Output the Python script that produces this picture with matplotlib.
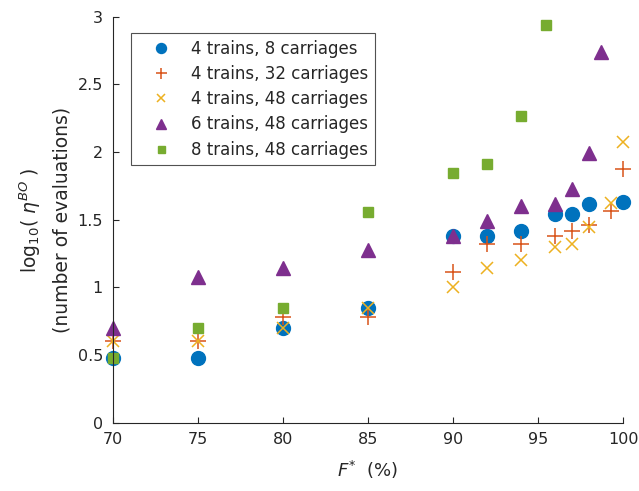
import matplotlib
matplotlib.use("Agg")
import matplotlib.pyplot as plt

plt.rcParams['font.family'] = ['DejaVu Sans']
plt.rcParams['mathtext.fontset'] = 'dejavusans'

# Data
x_4_8 = [70, 75, 80, 85, 90, 92, 94, 96, 97, 98, 100]
y_4_8 = [0.477, 0.477, 0.699, 0.845, 1.38, 1.38, 1.415, 1.544, 1.544, 1.613, 1.633]

x_4_32 = [70, 75, 80, 85, 90, 92, 94, 96, 97, 98, 99.3, 100]
y_4_32 = [0.602, 0.602, 0.778, 0.778, 1.114, 1.322, 1.322, 1.38, 1.415, 1.462, 1.568, 1.875]

x_4_48 = [70, 75, 80, 85, 90, 92, 94, 96, 97, 98, 99.3, 100]
y_4_48 = [0.602, 0.602, 0.699, 0.845, 1.0, 1.146, 1.204, 1.301, 1.322, 1.447, 1.623, 2.075]

x_6_48 = [70, 75, 80, 85, 90, 92, 94, 96, 97, 98, 98.7]
y_6_48 = [0.699, 1.079, 1.146, 1.279, 1.38, 1.491, 1.602, 1.613, 1.73, 1.996, 2.74]

x_8_48 = [70, 75, 80, 85, 90, 92, 94, 95.5]
y_8_48 = [0.477, 0.699, 0.845, 1.556, 1.845, 1.914, 2.265, 2.935]

labels = ['4 trains, 8 carriages', '4 trains, 32 carriages', '4 trains, 48 carriages',
          '6 trains, 48 carriages', '8 trains, 48 carriages']
xticks = [70, 75, 80, 85, 90, 95, 100]
yticks = [0, 0.5, 1, 1.5, 2, 2.5, 3]
yticklabels = ['0', '0.5', '1', '1.5', '2', '2.5', '3']

c_blue = '#0072BD'
c_orange = '#D95319'
c_yellow = '#EDB120'
c_purple = '#7E2F8E'
c_green = '#77AC30'
c_text = '#262626'

fig = plt.figure(figsize=(6.39, 4.91), dpi=100)
ax = fig.add_axes([0.1764, 0.139, 0.7986, 0.827])

kw = dict(ls='none', clip_on=False)
ax.plot(x_4_8, y_4_8, 'o', color=c_blue, ms=10, label=labels[0], **kw)
ax.plot(x_4_32, y_4_32, '+', color=c_orange, ms=11, mew=1.1, label=labels[1], **kw)
ax.plot(x_4_48, y_4_48, 'x', color=c_yellow, ms=8, mew=1.1, label=labels[2], **kw)
ax.plot(x_6_48, y_6_48, '^', color=c_purple, ms=10, label=labels[3], **kw)
ax.plot(x_8_48, y_8_48, 's', color=c_green, ms=7, label=labels[4], **kw)

ax.set_xlim(70, 100)
ax.set_ylim(0, 3)
ax.set_xticks(xticks)
ax.set_yticks(yticks)
ax.set_yticklabels(yticklabels)
ax.spines['top'].set_visible(False)
ax.spines['right'].set_visible(False)
for s in ['left', 'bottom']:
    ax.spines[s].set_color(c_text)
    ax.spines[s].set_linewidth(0.8)
ax.tick_params(direction='in', length=4, width=0.8, colors=c_text, labelsize=11.5, pad=7)

ax.set_xlabel(r'$F^{*}$  (%)', fontsize=13, color=c_text, labelpad=8)
ax.set_ylabel('log$_{10}$( $\\eta^{BO}$ )\n(number of evaluations)', fontsize=13.5,
              color=c_text, labelpad=4, linespacing=1.65)

leg = ax.legend(loc='upper left', bbox_to_anchor=(130.7 / 639, 1 - 33.3 / 491),
                bbox_transform=fig.transFigure, fontsize=12, frameon=True,
                fancybox=False, edgecolor=c_text, handlelength=2.8,
                handletextpad=0.4, labelspacing=0.43, borderpad=0.4,
                borderaxespad=0, numpoints=1, markerscale=0.72)
leg.get_frame().set_linewidth(0.8)
for t in leg.get_texts():
    t.set_color(c_text)

fig.savefig('out.png', dpi=100)
